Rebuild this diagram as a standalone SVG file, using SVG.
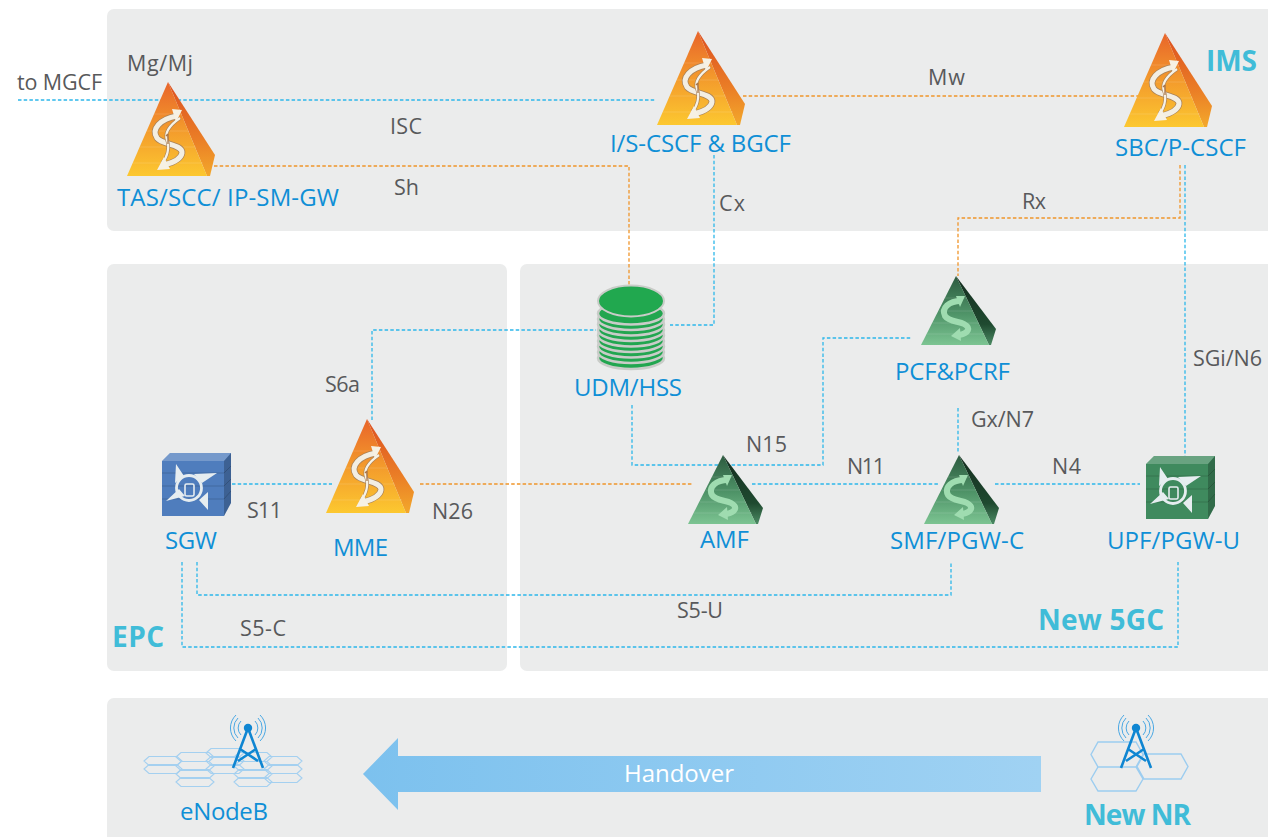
<svg xmlns="http://www.w3.org/2000/svg" width="1268" height="837" viewBox="0 0 1268 837">
<style>
text{font-family:"Open Sans","Noto Sans","Liberation Sans",sans-serif}
.g{fill:#58595b;font-size:21.500px}
.b{fill:#0f8fd6;font-size:24px}
.t{fill:#40bcd8;font-size:28px;font-weight:700}
.band{fill:#ebecec}
.c{fill:none;stroke-width:1.300;stroke-dasharray:3.500 2.200}
.bl{stroke:#2db7ea}
.or{stroke:#f0952a}
.hx{fill:none;stroke:#a4d0f0;stroke-width:1.100}
.hl{fill:none;stroke:#9ccdf0;stroke-width:1.400}
.tw{fill:none;stroke:#0f86d2;stroke-width:2.600}
.ar{fill:none;stroke:#4aa8e4;stroke-width:1}
.sv-top{fill:#fff;opacity:.22}
.sv-dark{fill:#000;opacity:.22}
.sv-line{stroke:#000;stroke-opacity:.16;stroke-width:1}
.ic{fill:#e6edf0}
</style>
<defs>
<linearGradient id="po" x1="0" y1="0" x2="0" y2="1"><stop offset="0" stop-color="#e8642a"/><stop offset=".5" stop-color="#f39a2c"/><stop offset="1" stop-color="#fcc830"/></linearGradient>
<linearGradient id="pod" x1="0" y1="0" x2="0" y2="1"><stop offset="0" stop-color="#dc4f20"/><stop offset=".6" stop-color="#ea7d26"/><stop offset="1" stop-color="#f3a82b"/></linearGradient>
<linearGradient id="pg" x1="0" y1="0" x2="0" y2="1"><stop offset="0" stop-color="#2c5a3f"/><stop offset=".55" stop-color="#4f9468"/><stop offset="1" stop-color="#7cc492"/></linearGradient>
<linearGradient id="pgd" x1="0" y1="0" x2="0" y2="1"><stop offset="0" stop-color="#142c1e"/><stop offset=".7" stop-color="#1f4a30"/><stop offset="1" stop-color="#4b8a63"/></linearGradient>
<linearGradient id="ah" x1="0" y1="0" x2="1" y2="0"><stop offset="0" stop-color="#7cc1ee"/><stop offset="1" stop-color="#a0d2f3"/></linearGradient>
<g id="pyrO">
<path d="M0 0L47 73 42 94H39Z" fill="url(#pod)"/>
<path d="M0 0L-41 94H39Z" fill="url(#po)"/>
<path d="M-14 32H14M-21 49H21M-28 65H28M-35 81H35" stroke="#fff" stroke-opacity=".13" fill="none"/>
<path d="M9 34C-8 37-17 47-11 56-6 63 15 62 14 71 13 77 4 81-4 83" fill="none" stroke="#a98258" stroke-width="6.500"/>
<path d="M9 34C-8 37-17 47-11 56-6 63 15 62 14 71 13 77 4 81-4 83" fill="none" stroke="#f3eee2" stroke-width="5"/>
<path d="M12 36C2 43-4 50-1 58 2 66-1 76-6 81" fill="none" stroke="#a98258" stroke-width="3.500"/>
<path d="M12 36C2 43-4 50-1 58 2 66-1 76-6 81" fill="none" stroke="#f7f2e6" stroke-width="2.200"/>
<path d="M14 28L4 27 8 40ZM-11 88L-4 75 2 87Z" fill="#f6f1e4"/>
<path d="M0 52V62M-2 54L0 52" stroke="#a9764a" stroke-width="1.300" fill="none"/>
</g>
<g id="pyrG">
<path d="M0 0L40 53 35 69H33Z" fill="url(#pgd)"/>
<path d="M0 0L-35 69H33Z" fill="url(#pg)"/>
<path d="M-11 22H11M-17 35H17M-23 47H23M-29 58H29" stroke="#fff" stroke-opacity=".12" fill="none"/>
<path d="M5 25C-7 25-15 32-11 40-7 46 3 45 8 48 15 52 13 57 3 59" fill="none" stroke="#9fdcb0" stroke-width="6"/>
<path d="M9 20L0 20 4 31ZM-5 60L4 52 5 65Z" fill="#9fdcb0"/>
</g>
<g id="srv">
<path d="M0 8L8 0H69V50L62 63H0Z" fill="currentColor"/>
<path d="M0 8L8 0H69L62 8Z" class="sv-top"/>
<path d="M62 8L69 0V50L62 63Z" class="sv-dark"/>
<path d="M0 20H62M0 33H62M0 46H62M62 20L69 13M62 33L69 26M62 46L69 38" class="sv-line" fill="none"/>
<circle cx="27" cy="35" r="12.500" fill="none" stroke="#e6edf0" stroke-width="2.800"/>
<path class="ic" d="M14 11L13 30 22 23ZM55 20L32 21 40 30ZM4 48L23 43 17 36ZM46 57L46 39 37 47Z"/>
<rect x="23" y="31" width="9" height="12" rx="1.500" fill="none" stroke="#e6edf0" stroke-width="1.600"/>
</g>
<g id="tower">
<circle cx="0" cy="0" r="4.200" fill="#0f86d2"/>
<path d="M0 0L-15 40M0 0L15 40M-8 21L10 33M8 21L-10 33" class="tw"/>
<path d="M-7 7A10 10 0 0 1-7-7M7 7A10 10 0 0 0 7-7M-10 10A14 14 0 0 1-10-10M10 10A14 14 0 0 0 10-10M-12 13A18 18 0 0 1-12-13M12 13A18 18 0 0 0 12-13" class="ar"/>
</g>
<path id="hex" d="M-19 0L-14-4.500H14L19 0 14 4.500H-14Z"/>
</defs>

<rect class="band" x="107" y="9" width="1180" height="222" rx="7"/>
<rect class="band" x="107" y="264" width="400" height="407" rx="7"/>
<rect class="band" x="520" y="264" width="770" height="407" rx="7"/>
<rect class="band" x="107" y="698" width="1180" height="150" rx="7"/>

<g id="connectors">
<path class="c bl" d="M18 100H656"/>
<path class="c or" d="M743 96H1140"/>
<path class="c or" d="M214 166H629V285"/>
<path class="c bl" d="M714 155V325H670"/>
<path class="c bl" d="M372 420V330H596"/>
<path class="c or" d="M1180 165V218H958V276"/>
<path class="c bl" d="M1185 165V456"/>
<path class="c bl" d="M632 405V465H823V338H912"/>
<path class="c bl" d="M958 408V452"/>
<path class="c or" d="M420 484H692"/>
<path class="c bl" d="M752 484H938"/>
<path class="c bl" d="M995 484H1140"/>
<path class="c bl" d="M232 484H332"/>
<path class="c bl" d="M197 562V595H951V562"/>
<path class="c bl" d="M182 562V647H1178V562"/>
</g>

<g id="connector-labels">
<text class="g" x="17" y="90" textLength="85">to MGCF</text>
<text class="g" x="127" y="71" textLength="66">Mg/Mj</text>
<text class="g" x="390" y="134" textLength="32">ISC</text>
<text class="g" x="394" y="195" textLength="25">Sh</text>
<text class="g" x="928" y="85" textLength="37">Mw</text>
<text class="g" x="719" y="211" textLength="26">Cx</text>
<text class="g" x="1022" y="209" textLength="24">Rx</text>
<text class="g" x="325" y="392" textLength="35">S6a</text>
<text class="g" x="1193" y="366" textLength="69">SGi/N6</text>
<text class="g" x="746" y="452" textLength="41">N15</text>
<text class="g" x="971" y="427" textLength="63">Gx/N7</text>
<text class="g" x="847" y="474" textLength="38">N11</text>
<text class="g" x="1052" y="474" textLength="29">N4</text>
<text class="g" x="247" y="518" textLength="35">S11</text>
<text class="g" x="432" y="519" textLength="41">N26</text>
<text class="g" x="677" y="618" textLength="46">S5-U</text>
<text class="g" x="240" y="636" textLength="46">S5-C</text>
</g>

<g id="tas"><use href="#pyrO" x="168" y="82"/><text class="b" x="117" y="206" textLength="222">TAS/SCC/ IP-SM-GW</text></g>
<g id="cscf"><use href="#pyrO" x="698" y="31"/><text class="b" x="610" y="152" textLength="181">I/S-CSCF &amp; BGCF</text></g>
<g id="sbc"><use href="#pyrO" x="1165" y="33"/><text class="b" x="1115" y="156" textLength="131">SBC/P-CSCF</text></g>
<g id="mme"><use href="#pyrO" x="367" y="419"/><text class="b" x="333" y="556" textLength="55">MME</text></g>
<g id="sgw" color="#4f7dbd"><use href="#srv" x="162" y="453"/><text class="b" x="165" y="549" textLength="52">SGW</text></g>
<g id="udm">
<ellipse cx="631" cy="358" rx="33" ry="11" fill="#22a650" stroke="#c9ccc8" stroke-width="2.500"/>
<ellipse cx="631" cy="352" rx="33" ry="11" fill="#22a650" stroke="#c9ccc8" stroke-width="2.500"/>
<ellipse cx="631" cy="346.500" rx="33" ry="11" fill="#22a650" stroke="#c9ccc8" stroke-width="2.500"/>
<ellipse cx="631" cy="341" rx="33" ry="11" fill="#22a650" stroke="#c9ccc8" stroke-width="2.500"/>
<ellipse cx="631" cy="335.500" rx="33" ry="11" fill="#22a650" stroke="#c9ccc8" stroke-width="2.500"/>
<ellipse cx="631" cy="330" rx="33" ry="11" fill="#22a650" stroke="#c9ccc8" stroke-width="2.500"/>
<ellipse cx="631" cy="324.500" rx="33" ry="11" fill="#22a650" stroke="#c9ccc8" stroke-width="2.500"/>
<ellipse cx="631" cy="319" rx="33" ry="11" fill="#22a650" stroke="#c9ccc8" stroke-width="2.500"/>
<ellipse cx="631" cy="313.500" rx="33" ry="11" fill="#22a650" stroke="#c9ccc8" stroke-width="2.500"/>
<ellipse cx="631" cy="301" rx="33" ry="15.500" fill="#21a84f" stroke="#c9ccc8" stroke-width="2"/>
<text class="b" x="574" y="396" textLength="108">UDM/HSS</text>
</g>
<g id="pcf"><use href="#pyrG" x="956" y="276"/><text class="b" x="895" y="380" textLength="115">PCF&amp;PCRF</text></g>
<g id="amf"><use href="#pyrG" x="723" y="455"/><text class="b" x="700" y="548" textLength="49">AMF</text></g>
<g id="smf"><use href="#pyrG" x="959" y="455"/><text class="b" x="890" y="549" textLength="134">SMF/PGW-C</text></g>
<g id="upf" color="#3f8a5e"><use href="#srv" x="1146" y="456"/><text class="b" x="1107" y="549" textLength="133">UPF/PGW-U</text></g>

<g id="enodeb">
<g class="hx">
<use href="#hex" x="163" y="761"/><use href="#hex" x="163" y="769"/>
<use href="#hex" x="195" y="757"/><use href="#hex" x="195" y="766"/><use href="#hex" x="195" y="774"/><use href="#hex" x="195" y="782"/>
<use href="#hex" x="225" y="753"/><use href="#hex" x="225" y="761"/><use href="#hex" x="225" y="769"/>
<use href="#hex" x="253" y="757"/><use href="#hex" x="253" y="766"/><use href="#hex" x="253" y="774"/><use href="#hex" x="253" y="782"/>
<use href="#hex" x="283" y="761"/><use href="#hex" x="283" y="769"/><use href="#hex" x="283" y="778"/>
</g>
<use href="#tower" x="248" y="728"/>
<text class="b" x="180" y="820" textLength="88">eNodeB</text>
</g>
<g id="newnr">
<path class="hl" d="M1091 754.500L1098 742H1136L1143 754.500 1136 767H1098ZM1091 779L1098 767H1136L1143 779 1136 791H1098ZM1137 766.500L1144 754H1181L1188 766.500 1181 779H1144Z"/>
<use href="#tower" x="1136" y="728"/>
<text class="t" x="1084" y="825" textLength="107">New NR</text>
</g>
<g id="handover">
<path d="M363 774L398 738V756H1041V792H398V810Z" fill="url(#ah)"/>
<text x="624" y="782" textLength="110" fill="#fff" font-size="24">Handover</text>
</g>
<text class="t" x="1206" y="71" textLength="51">IMS</text>
<text class="t" x="1038" y="630" textLength="126">New 5GC</text>
<text class="t" x="112" y="647" textLength="52">EPC</text>
</svg>
